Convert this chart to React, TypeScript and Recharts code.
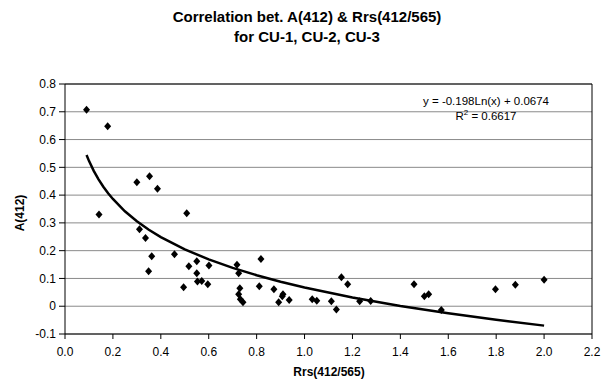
import React from 'react'
import {
  ScatterChart,
  Scatter,
  XAxis,
  YAxis,
  CartesianGrid,
  ReferenceLine
} from 'recharts'

// Rrs(412/565) ratio and A(412) absorption for the CU-1..CU-3 stations
const rrsRatio = [
  0.09, 0.178, 0.142, 0.3, 0.353, 0.386, 0.508, 0.311, 0.336, 0.362,
  0.349, 0.457, 0.495, 0.517, 0.55, 0.55, 0.553, 0.571, 0.596, 0.601,
  0.718, 0.725, 0.73, 0.725, 0.732, 0.743, 0.811, 0.818, 0.872, 0.892,
  0.907, 0.91, 0.936, 1.032, 1.051, 1.112, 1.133, 1.154, 1.18, 1.23,
  1.276, 1.457, 1.5, 1.518, 1.571, 1.797, 1.88, 2.0
]
const a412 = [
  0.707, 0.648, 0.33, 0.446, 0.468, 0.423, 0.335, 0.277, 0.246, 0.18,
  0.126, 0.187, 0.068, 0.144, 0.162, 0.119, 0.089, 0.091, 0.079, 0.147,
  0.149, 0.119, 0.065, 0.043, 0.025, 0.014, 0.072, 0.17, 0.061, 0.014,
  0.036, 0.043, 0.022, 0.025, 0.02, 0.018, -0.012, 0.104, 0.079, 0.018,
  0.019, 0.079, 0.036, 0.043, -0.014, 0.061, 0.077, 0.095
]

// logarithmic trendline y = a*ln(x) + b, as reported on the chart
const trendA = -0.198
const trendB = 0.0674
const trendR2 = 0.6617
const trendX = [
  0.09, 0.1, 0.12, 0.14, 0.16, 0.18, 0.2, 0.25, 0.3, 0.35, 0.4, 0.5, 0.6,
  0.7, 0.8, 0.9, 1.0, 1.2, 1.4, 1.6, 1.8, 2.0
]

const xTicks = [0, 0.2, 0.4, 0.6, 0.8, 1.0, 1.2, 1.4, 1.6, 1.8, 2.0, 2.2]
const yTicks = [-0.1, 0, 0.1, 0.2, 0.3, 0.4, 0.5, 0.6, 0.7, 0.8]

const points = rrsRatio.map((x, i) => ({ x, y: a412[i] }))
const trend = trendX.map(x => ({ x, y: trendA * Math.log(x) + trendB }))

const FONT = '"Liberation Sans", Arial, sans-serif'

function Diamond(props: any) {
  const { cx, cy } = props
  if (cx == null || cy == null) return <g />
  return (
    <polygon
      points={`${cx},${cy - 4} ${cx + 3.5},${cy} ${cx},${cy + 4} ${cx - 3.5},${cy}`}
      fill="#000"
    />
  )
}

const NoDot = () => <g />

export default function App() {
  return (
    <div style={{ position: 'absolute', left: 0, top: 0, width: 609, height: 382, background: '#fff', fontFamily: FONT }}>
      <div style={{ position: 'absolute', left: 0, top: 7, width: 614, textAlign: 'center', fontWeight: 'bold', fontSize: 15, lineHeight: '20px', color: '#000' }}>
        Correlation bet. A(412) &amp; Rrs(412/565)
        <br />
        for CU-1, CU-2, CU-3
      </div>

      <ScatterChart width={609} height={382} margin={{ top: 84, right: 17, bottom: 18, left: 5 }}>
        <CartesianGrid horizontal vertical={false} stroke="#8a8a8a" strokeWidth={1} />
        <XAxis
          type="number"
          dataKey="x"
          domain={[0, 2.2]}
          ticks={xTicks}
          tickFormatter={v => v.toFixed(1)}
          tick={{ fill: '#000', fontSize: 12, fontFamily: FONT }}
          axisLine={{ stroke: '#000' }}
          tickLine={{ stroke: '#000' }}
          tickSize={5}
          tickMargin={8}
          height={30}
          allowDataOverflow
        />
        <YAxis
          type="number"
          dataKey="y"
          domain={[-0.1, 0.8]}
          ticks={yTicks}
          tickFormatter={v => (v === 0 ? '0' : v.toFixed(1))}
          tick={{ fill: '#000', fontSize: 12, fontFamily: FONT }}
          axisLine={{ stroke: '#000' }}
          tickLine={{ stroke: '#000' }}
          tickSize={6}
          tickMargin={3}
          width={60}
          allowDataOverflow
        />
        <ReferenceLine y={0.8} stroke="#000" />
        <ReferenceLine x={2.2} stroke="#000" />
        <Scatter data={points} shape={<Diamond />} isAnimationActive={false} />
        <Scatter
          data={trend}
          line={{ stroke: '#000', strokeWidth: 2.5 }}
          shape={<NoDot />}
          isAnimationActive={false}
        />
      </ScatterChart>

      <div style={{ position: 'absolute', left: 406, top: 94, width: 160, textAlign: 'center', fontSize: 11.5, lineHeight: '15px', color: '#000' }}>
        y = {trendA}Ln(x) + {trendB}
        <br />
        R<sup style={{ fontSize: 8, verticalAlign: 'top', lineHeight: '8px' }}>2</sup> = {trendR2}
      </div>

      <div style={{ position: 'absolute', left: 0, top: 203, width: 40, height: 20, textAlign: 'center', fontWeight: 'bold', fontSize: 12, lineHeight: '20px', transform: 'rotate(-90deg)', color: '#000' }}>
        A(412)
      </div>

      <div style={{ position: 'absolute', left: 229, top: 364, width: 200, textAlign: 'center', fontWeight: 'bold', fontSize: 12, lineHeight: '16px', color: '#000' }}>
        Rrs(412/565)
      </div>
    </div>
  )
}
